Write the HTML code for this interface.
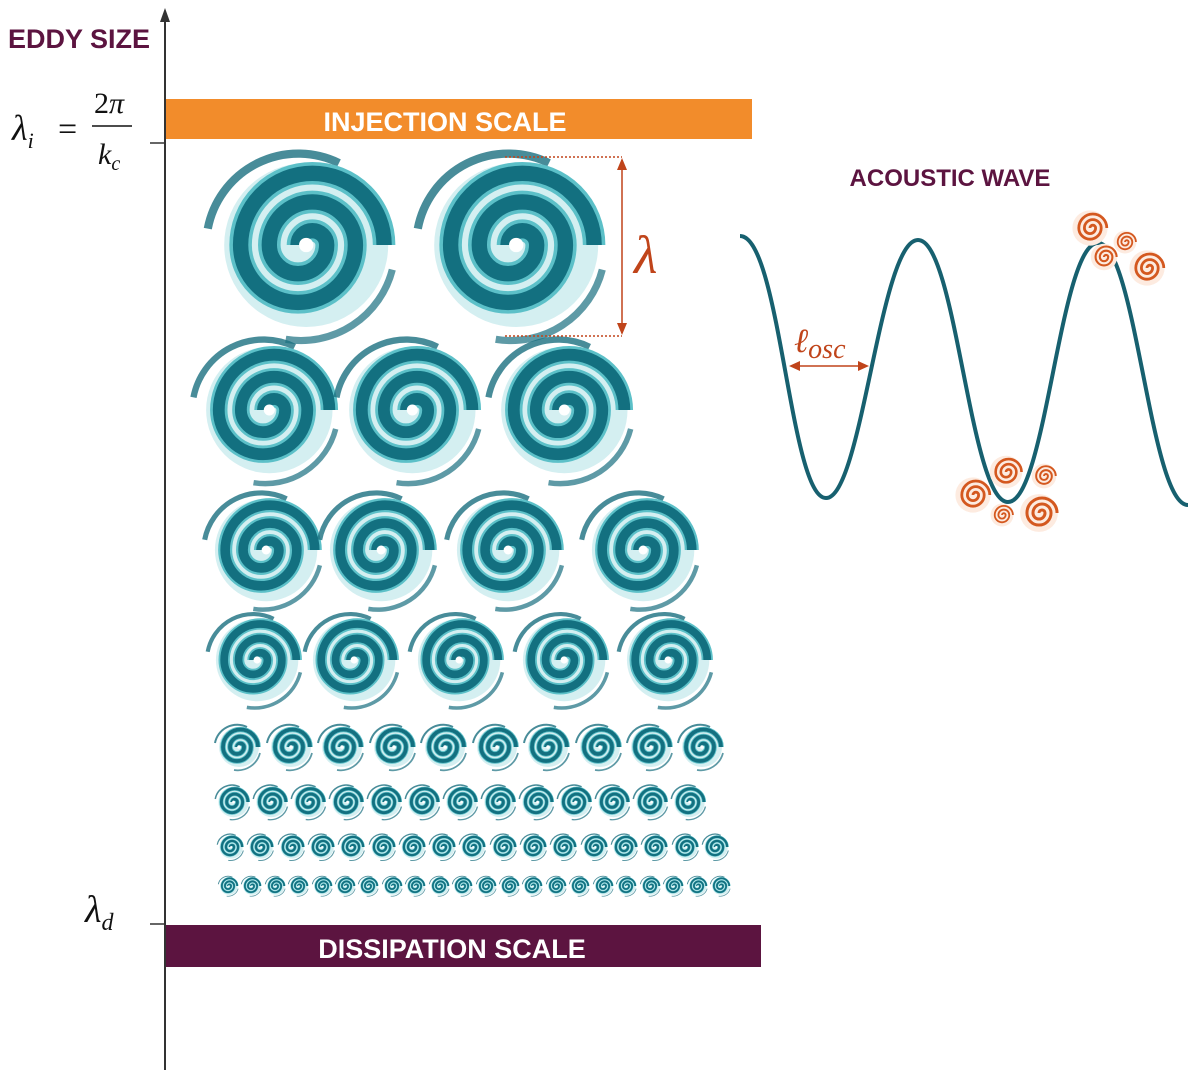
<!DOCTYPE html>
<html><head><meta charset="utf-8"><style>
html,body{margin:0;padding:0;background:#fff;width:1200px;height:1083px;overflow:hidden}
svg{display:block}
.t{font-family:"Liberation Sans",sans-serif;font-weight:bold}
.m{font-family:"Liberation Serif",serif;font-style:italic}
</style></head><body>
<svg width="1200" height="1083" viewBox="0 0 1200 1083" xmlns="http://www.w3.org/2000/svg">
<defs>
<g id="sp">
<circle cx="4" r="40" fill="#d4eff1"/>
<path d="M-44,-8 A45 45 0 0 1 20,-40" fill="none" stroke="#1a6f80" stroke-width="4" opacity="0.8"/>
<path d="M46,12 A46 46 0 0 1 -6,46" fill="none" stroke="#1a6f80" stroke-width="3.5" opacity="0.7"/>
<path d="M0,0 A7 7 0 0 1 14 0 A14 14 0 0 1 -14 0 A21 21 0 0 1 28 0 A28 28 0 0 1 -28 0 A35 35 0 0 1 42 0" fill="none" stroke="#5cc0c8" stroke-width="11"/>
<path d="M0,0 A7 7 0 0 1 14 0 A14 14 0 0 1 -14 0 A21 21 0 0 1 28 0 A28 28 0 0 1 -28 0 A35 35 0 0 1 42 0" fill="none" stroke="#137080" stroke-width="7.5"/>
<circle cx="4" r="3.5" fill="#fff"/>
</g>
<g id="osp">
<circle r="44" fill="#fdebe0"/>
<path d="M0,0 A7 7 0 0 1 14 0 A14 14 0 0 1 -14 0 A21 21 0 0 1 28 0 A28 28 0 0 1 -28 0 A35 35 0 0 1 42 0" fill="none" stroke="#d4581f" stroke-width="7"/>
</g>
</defs>

<line x1="165" y1="14" x2="165" y2="1070" stroke="#333" stroke-width="2"/>
<path d="M160,22 L165,8 L170,22 Z" fill="#333"/>
<line x1="150" y1="143" x2="165" y2="143" stroke="#333" stroke-width="1.5"/>
<line x1="150" y1="924" x2="165" y2="924" stroke="#333" stroke-width="1.5"/>

<text x="8" y="48" class="t" font-size="27" fill="#5c1440">EDDY SIZE</text>
<text x="12" y="140" class="m" font-size="36" fill="#111">λ<tspan font-size="22" dy="8">i</tspan></text>
<text x="58" y="140" font-family="Liberation Serif,serif" font-size="34" fill="#111">=</text>
<text x="94" y="113" font-family="Liberation Serif,serif" font-size="30" fill="#111">2<tspan class="m">π</tspan></text>
<line x1="92" y1="126" x2="132" y2="126" stroke="#111" stroke-width="1.5"/>
<text x="98" y="164" class="m" font-size="30" fill="#111">k<tspan font-size="20" dy="6">c</tspan></text>
<text x="85" y="922" class="m" font-size="38" fill="#111">λ<tspan font-size="24" dy="8">d</tspan></text>

<rect x="166" y="99" width="586" height="40" fill="#f28c2b"/>
<text x="445" y="131" class="t" font-size="27" fill="#fff" text-anchor="middle">INJECTION SCALE</text>
<rect x="166" y="925" width="595" height="42" fill="#5c1440"/>
<text x="452" y="958" class="t" font-size="27" fill="#fff" text-anchor="middle">DISSIPATION SCALE</text>

<use href="#sp" transform="translate(298,245) scale(2.05)"/>
<use href="#sp" transform="translate(508,245) scale(2.05)"/>
<use href="#sp" transform="translate(263,410) scale(1.58)"/>
<use href="#sp" transform="translate(406,410) scale(1.58)"/>
<use href="#sp" transform="translate(558,410) scale(1.58)"/>
<use href="#sp" transform="translate(261,550) scale(1.28)"/>
<use href="#sp" transform="translate(376,550) scale(1.28)"/>
<use href="#sp" transform="translate(503,550) scale(1.28)"/>
<use href="#sp" transform="translate(638,550) scale(1.28)"/>
<use href="#sp" transform="translate(253,660) scale(1.03)"/>
<use href="#sp" transform="translate(350,660) scale(1.03)"/>
<use href="#sp" transform="translate(455,660) scale(1.03)"/>
<use href="#sp" transform="translate(560,660) scale(1.03)"/>
<use href="#sp" transform="translate(664,660) scale(1.03)"/>
<g>
<use href="#sp" transform="translate(237,747) scale(0.5)"/>
<use href="#sp" transform="translate(289,747) scale(0.5)"/>
<use href="#sp" transform="translate(340,747) scale(0.5)"/>
<use href="#sp" transform="translate(392,747) scale(0.5)"/>
<use href="#sp" transform="translate(443,747) scale(0.5)"/>
<use href="#sp" transform="translate(495,747) scale(0.5)"/>
<use href="#sp" transform="translate(546,747) scale(0.5)"/>
<use href="#sp" transform="translate(598,747) scale(0.5)"/>
<use href="#sp" transform="translate(649,747) scale(0.5)"/>
<use href="#sp" transform="translate(700,747) scale(0.5)"/>
</g>
<g>
<use href="#sp" transform="translate(232,802) scale(0.38)"/>
<use href="#sp" transform="translate(270,802) scale(0.38)"/>
<use href="#sp" transform="translate(308,802) scale(0.38)"/>
<use href="#sp" transform="translate(346,802) scale(0.38)"/>
<use href="#sp" transform="translate(384,802) scale(0.38)"/>
<use href="#sp" transform="translate(422,802) scale(0.38)"/>
<use href="#sp" transform="translate(460,802) scale(0.38)"/>
<use href="#sp" transform="translate(498,802) scale(0.38)"/>
<use href="#sp" transform="translate(536,802) scale(0.38)"/>
<use href="#sp" transform="translate(574,802) scale(0.38)"/>
<use href="#sp" transform="translate(612,802) scale(0.38)"/>
<use href="#sp" transform="translate(650,802) scale(0.38)"/>
<use href="#sp" transform="translate(688,802) scale(0.38)"/>
</g>
<g>
<use href="#sp" transform="translate(230,847) scale(0.29)"/>
<use href="#sp" transform="translate(260,847) scale(0.29)"/>
<use href="#sp" transform="translate(291,847) scale(0.29)"/>
<use href="#sp" transform="translate(321,847) scale(0.29)"/>
<use href="#sp" transform="translate(351,847) scale(0.29)"/>
<use href="#sp" transform="translate(382,847) scale(0.29)"/>
<use href="#sp" transform="translate(412,847) scale(0.29)"/>
<use href="#sp" transform="translate(442,847) scale(0.29)"/>
<use href="#sp" transform="translate(472,847) scale(0.29)"/>
<use href="#sp" transform="translate(503,847) scale(0.29)"/>
<use href="#sp" transform="translate(533,847) scale(0.29)"/>
<use href="#sp" transform="translate(563,847) scale(0.29)"/>
<use href="#sp" transform="translate(594,847) scale(0.29)"/>
<use href="#sp" transform="translate(624,847) scale(0.29)"/>
<use href="#sp" transform="translate(654,847) scale(0.29)"/>
<use href="#sp" transform="translate(685,847) scale(0.29)"/>
<use href="#sp" transform="translate(715,847) scale(0.29)"/>
</g>
<g>
<use href="#sp" transform="translate(228,886) scale(0.22)"/>
<use href="#sp" transform="translate(251,886) scale(0.22)"/>
<use href="#sp" transform="translate(275,886) scale(0.22)"/>
<use href="#sp" transform="translate(298,886) scale(0.22)"/>
<use href="#sp" transform="translate(322,886) scale(0.22)"/>
<use href="#sp" transform="translate(345,886) scale(0.22)"/>
<use href="#sp" transform="translate(368,886) scale(0.22)"/>
<use href="#sp" transform="translate(392,886) scale(0.22)"/>
<use href="#sp" transform="translate(415,886) scale(0.22)"/>
<use href="#sp" transform="translate(439,886) scale(0.22)"/>
<use href="#sp" transform="translate(462,886) scale(0.22)"/>
<use href="#sp" transform="translate(486,886) scale(0.22)"/>
<use href="#sp" transform="translate(509,886) scale(0.22)"/>
<use href="#sp" transform="translate(532,886) scale(0.22)"/>
<use href="#sp" transform="translate(556,886) scale(0.22)"/>
<use href="#sp" transform="translate(579,886) scale(0.22)"/>
<use href="#sp" transform="translate(603,886) scale(0.22)"/>
<use href="#sp" transform="translate(626,886) scale(0.22)"/>
<use href="#sp" transform="translate(650,886) scale(0.22)"/>
<use href="#sp" transform="translate(673,886) scale(0.22)"/>
<use href="#sp" transform="translate(697,886) scale(0.22)"/>
<use href="#sp" transform="translate(720,886) scale(0.22)"/>
</g>

<line x1="505" y1="157" x2="622" y2="157" stroke="#c0441a" stroke-width="1.5" stroke-dasharray="2,2"/>
<line x1="505" y1="336" x2="622" y2="336" stroke="#c0441a" stroke-width="1.5" stroke-dasharray="2,2"/>
<line x1="622" y1="160" x2="622" y2="333" stroke="#c0441a" stroke-width="1.5"/>
<path d="M617,170 L622,158 L627,170 Z M617,323 L622,335 L627,323 Z" fill="#c0441a"/>
<text x="634" y="273" class="m" font-size="54" fill="#c0441a">λ</text>

<text x="950" y="186" class="t" font-size="24" fill="#5c1440" text-anchor="middle">ACOUSTIC WAVE</text>
<path d="M740,236 C780,236 790,498 826,498 C862,498 880,240 918,240 C956,240 970,502 1008,502 C1046,502 1060,243 1098,243 C1136,243 1150,505 1188,505" fill="none" stroke="#17606f" stroke-width="4"/>
<line x1="792" y1="366" x2="866" y2="366" stroke="#c0441a" stroke-width="1.5"/>
<path d="M800,361 L789,366 L800,371 Z M858,361 L869,366 L858,371 Z" fill="#c0441a"/>
<text x="794" y="352" class="m" font-size="34" fill="#c0441a">ℓ<tspan font-size="28" dy="6">osc</tspan></text>

<use href="#osp" transform="translate(1090,228) scale(0.4)"/>
<use href="#osp" transform="translate(1125,242) scale(0.26)"/>
<use href="#osp" transform="translate(1104,257) scale(0.3)"/>
<use href="#osp" transform="translate(1147,268) scale(0.4)"/>
<use href="#osp" transform="translate(1006,472) scale(0.37)"/>
<use href="#osp" transform="translate(1044,476) scale(0.28)"/>
<use href="#osp" transform="translate(973,495) scale(0.4)"/>
<use href="#osp" transform="translate(1002,515) scale(0.26)"/>
<use href="#osp" transform="translate(1039,513) scale(0.43)"/>
</svg>
</body></html>
